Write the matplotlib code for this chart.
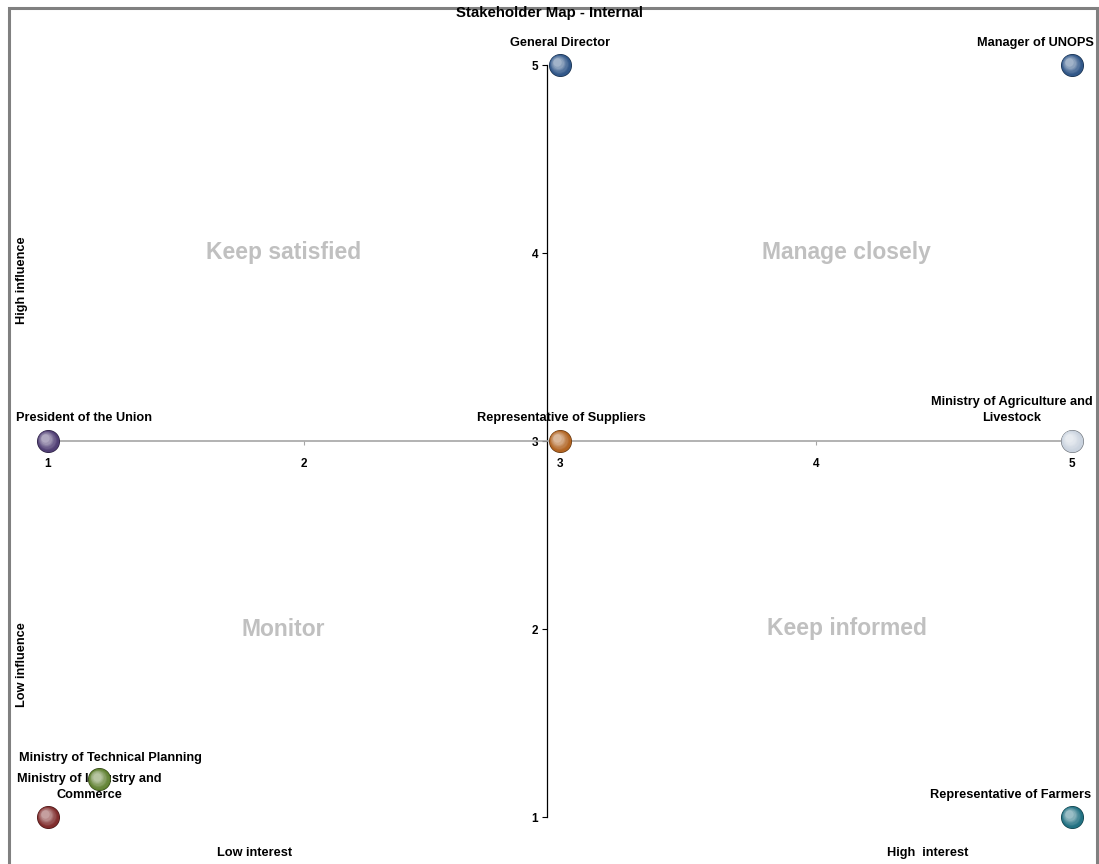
import matplotlib
matplotlib.use("Agg")
import matplotlib.pyplot as plt
import matplotlib.colors as mcolors
import matplotlib.transforms as mtransforms
from matplotlib.patches import Rectangle

plt.rcParams['font.family'] = ['Liberation Sans', 'DejaVu Sans']

# Stakeholders: interest (x) vs influence (y)
names = [
    "General Director",
    "Manager of UNOPS",
    "President of the Union",
    "Representative of Suppliers",
    "Ministry of Agriculture and\nLivestock",
    "Ministry of Technical Planning",
    "Ministry of Industry and\nCommerce",
    "Representative of Farmers",
]
interest = [3, 5, 1, 3, 5, 1.2, 1, 5]
influence = [5, 5, 3, 3, 3, 1.2, 1, 1]
colors = ["#2E5587", "#2E5587", "#4E3C72", "#B0621F", "#C9D2DE",
          "#5E7F2E", "#7E2A2A", "#1F6F80"]

# label offsets in pixels (dx, dy) relative to each marker
label_offsets = [(0, 22), (-37, 22), (36, 23), (1, 23), (-60, 31),
                 (11, 21), (41, 30), (-61, 22)]

quadrants = ["Keep satisfied", "Manage closely", "Monitor", "Keep informed"]
quad_x = [1.92, 4.12, 1.92, 4.12]
quad_y = [4.0, 4.0, 2.0, 2.0]

ticks = [1, 2, 3, 4, 5]

W, H = 1099, 864
fig = plt.figure(figsize=(W / 100, H / 100), dpi=100)
fig.patch.set_facecolor("white")

# chart border
fig.add_artist(Rectangle((8.5 / W, -0.01), (1097 - 8.5) / W, (H - 7.5) / H + 0.01,
                         transform=fig.transFigure, fill=False,
                         edgecolor="#808080", linewidth=2.2))

ax = fig.add_axes([48 / W, (H - 817) / H, 1024 / W, 752 / H])
ax.set_xlim(1, 5)
ax.set_ylim(1, 5)
ax.patch.set_alpha(0)

for s in ["top", "right"]:
    ax.spines[s].set_visible(False)
ax.spines["bottom"].set_position(("data", 3))
ax.spines["bottom"].set_color("#A6A6A6")
ax.spines["bottom"].set_linewidth(1.2)
ax.spines["left"].set_position(("data", 2.95))
ax.spines["left"].set_color("black")
ax.spines["left"].set_linewidth(0.9)

ax.set_xticks(ticks)
ax.set_yticks(ticks)
ax.set_xticklabels([str(t) for t in ticks], fontsize=8.5, fontweight="bold")
ax.set_yticklabels([str(t) for t in ticks], fontsize=8.5, fontweight="bold")
ax.tick_params(axis="x", direction="out", length=3, color="#A6A6A6", pad=9)
ax.tick_params(axis="y", direction="out", length=3.5, color="black", pad=3)


def sphere(x, y, c):
    """Shaded ball: a dark rim with lighter discs drifting toward a highlight."""
    base = mcolors.to_rgb(c)
    dark = tuple(v * 0.55 for v in base)
    ax.scatter([x], [y], s=275, color=[dark], zorder=5, clip_on=False, linewidths=0)
    n = 9
    for i in range(n):
        f = i / (n - 1)
        size = 245 * (1 - 0.85 * f)
        col = tuple(min(1, v + (1 - v) * 0.55 * f ** 1.6) for v in base)
        off = 0.9 * f
        shift = mtransforms.ScaledTranslation(-off * 3 / 100, off * 3 / 100,
                                              fig.dpi_scale_trans)
        ax.scatter([x], [y], s=size, color=[col], zorder=6 + i, clip_on=False,
                   linewidths=0, transform=ax.transData + shift)


for name, xv, yv, c, (dx, dy) in zip(names, interest, influence, colors, label_offsets):
    sphere(xv, yv, c)
    ax.annotate(name, xy=(xv, yv), xytext=(dx, dy), textcoords="offset pixels",
                ha="center", va="center", fontsize=9.2, fontweight="bold",
                multialignment="center", linespacing=1.5, annotation_clip=False,
                zorder=4)

for q, qx, qy in zip(quadrants, quad_x, quad_y):
    ax.text(qx, qy, q, ha="center", va="center", fontsize=16.5, fontweight="bold",
            color="#C0C0C0")

fig.text(549 / W, 1 - 13 / H, "Stakeholder Map - Internal", ha="center", va="center",
         fontsize=10.8, fontweight="bold")
fig.text(22 / W, 1 - 280 / H, "High influence", rotation=90, ha="center", va="center",
         fontsize=9.2, fontweight="bold")
fig.text(22 / W, 1 - 665 / H, "Low influence", rotation=90, ha="center", va="center",
         fontsize=9.2, fontweight="bold")
fig.text(255 / W, 1 - 853 / H, "Low interest", ha="center", va="center",
         fontsize=9.2, fontweight="bold")
fig.text(928 / W, 1 - 853 / H, "High  interest", ha="center", va="center",
         fontsize=9.2, fontweight="bold")

fig.savefig("out.png", dpi=100, facecolor="white")
